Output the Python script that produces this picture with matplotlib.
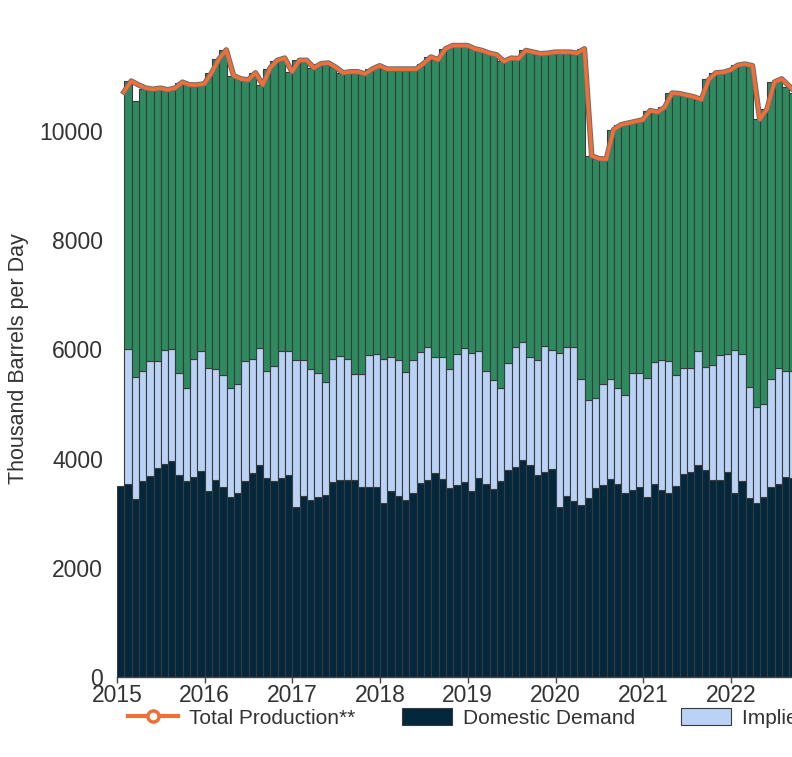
import numpy as np
import matplotlib
matplotlib.use("Agg")
import matplotlib.pyplot as plt
import matplotlib.patheffects as pe
from matplotlib.lines import Line2D
from matplotlib.patches import Patch

plt.rcParams['font.family'] = ['Liberation Sans', 'DejaVu Sans']

# monthly values, Jan 2015 .. Sep 2022 (thousand barrels per day)
years = [2015, 2016, 2017, 2018, 2019, 2020, 2021, 2022]

domestic_demand = [
    3490, 3540, 3250, 3580, 3680, 3830, 3900, 3960, 3690, 3580, 3660, 3770,
    3400, 3610, 3470, 3300, 3360, 3590, 3740, 3890, 3650, 3580, 3640, 3690,
    3120, 3320, 3240, 3300, 3330, 3570, 3610, 3610, 3610, 3470, 3470, 3470,
    3180, 3410, 3310, 3240, 3360, 3550, 3610, 3730, 3630, 3460, 3520, 3570,
    3410, 3640, 3530, 3450, 3580, 3790, 3850, 3970, 3880, 3690, 3760, 3800,
    3110, 3320, 3220, 3140, 3270, 3460, 3510, 3630, 3540, 3360, 3430, 3470,
    3300, 3540, 3430, 3360, 3500, 3710, 3760, 3880, 3790, 3610, 3610, 3750,
    3360, 3580, 3280, 3180, 3290, 3480, 3540, 3660, 3640,
]

implied_exports = [
    np.nan, 2470, 2250, 2030, 2100, 1950, 2080, 2040, 1870, 1710, 2160, 2200,
    2260, 2020, 2050, 2000, 2000, 2190, 2090, 2130, 1950, 2120, 2330, 2280,
    2690, 2480, 2400, 2260, 2070, 2250, 2260, 2220, 1940, 2070, 2430, 2450,
    2640, 2450, 2500, 2340, 2440, 2400, 2430, 2120, 2220, 2180, 2390, 2460,
    2530, 2320, 2080, 1990, 1720, 1950, 2200, 2160, 1970, 2120, 2300, 2190,
    2830, 2730, 2820, 2310, 1810, 1640, 1860, 1830, 1750, 1800, 2130, 2090,
    2170, 2220, 2380, 2430, 2020, 1940, 1900, 2090, 1880, 2110, 2280, 2160,
    2620, 2340, 2030, 1760, 1710, 1970, 2120, 1940, 1970,
]

crude_exports = [
    np.nan, 4900, 5040, 5160, 4990, 4990, 4780, 4790, 5320, 5560, 5020, 4880,
    5400, 5690, 5960, 5700, 5600, 5150, 5230, 4820, 5540, 5580, 5360, 5110,
    5480, 5490, 5510, 5670, 5840, 5340, 5180, 5250, 5520, 5500, 5230, 5270,
    5310, 5260, 5320, 5550, 5330, 5280, 5310, 5450, 5650, 5920, 5660, 5540,
    5560, 5510, 5810, 5960, 5970, 5590, 5270, 5340, 5590, 5600, 5370, 5440,
    5500, 5390, 5390, 6040, 4460, 4390, 4110, 4560, 4820, 4980, 4620, 4640,
    4890, 4570, 4620, 4900, 5150, 5010, 4950, 4590, 5270, 5340, 5170, 5200,
    5220, 5300, 5890, 5270, 5400, 5440, 5290, 5200, 5090,
]

total_production = [
    10710, 10910, 10840, 10780, 10760, 10780, 10750, 10780, 10890, 10840, 10840, 10860,
    11060, 11310, 11480, 11010, 10950, 10930, 11060, 10840, 11150, 11290, 11330, 11080,
    11290, 11290, 11150, 11230, 11240, 11160, 11060, 11080, 11080, 11040, 11130, 11190,
    11130, 11130, 11130, 11130, 11130, 11230, 11350, 11300, 11500, 11560, 11560, 11560,
    11500, 11470, 11420, 11390, 11270, 11330, 11320, 11470, 11440, 11410, 11420, 11440,
    11440, 11440, 11420, 11500, 9540, 9490, 9480, 10020, 10110, 10140, 10170, 10200,
    10370, 10340, 10430, 10690, 10680, 10650, 10620, 10570, 10930, 11060, 11070, 11110,
    11200, 11220, 11190, 10210, 10400, 10890, 10950, 10820, 10700,
]

c_demand = '#03283D'
c_implied = '#B9D2F5'
c_crude = '#2E8B5F'
c_prod = '#EE7038'
c_edge = '#3a3a3a'
c_text = '#333333'

dem = np.array(domestic_demand, dtype=float)
imp = np.array(implied_exports, dtype=float)
cru = np.array(crude_exports, dtype=float)
prod = np.array(total_production, dtype=float)
x = np.arange(len(dem))

fig = plt.figure(figsize=(7.92, 7.57), dpi=100)
# axes run past the right edge of the canvas, as in the reference crop
ax = fig.add_axes([117 / 792, 80 / 757, 687 / 792, 650 / 757])

ax.bar(x, dem, width=1, align='edge', color=c_demand, edgecolor=c_edge, linewidth=0.8)
ax.bar(x, imp, width=1, align='edge', bottom=dem, color=c_implied, edgecolor=c_edge, linewidth=0.8)
ax.bar(x, cru, width=1, align='edge', bottom=dem + imp, color=c_crude, edgecolor=c_edge, linewidth=0.8)

ax.plot(x + 0.95, prod, color=c_prod, lw=2.6, solid_joinstyle='round',
        path_effects=[pe.Stroke(linewidth=4.0, foreground='#6b6b6b'), pe.Normal()])

ax.set_xlim(0, 94)
ax.set_ylim(0, 11900)
ax.set_xticks([12 * i for i in range(len(years))])
ax.set_xticklabels([str(y) for y in years])
ax.set_yticks([0, 2000, 4000, 6000, 8000, 10000])

for s in ['top', 'right', 'left']:
    ax.spines[s].set_visible(False)
ax.spines['bottom'].set_color('#444444')
ax.spines['bottom'].set_linewidth(1.0)

ax.tick_params(axis='x', length=4, width=1, color='#444444', labelsize=16.5,
               labelcolor=c_text, pad=1)
ax.tick_params(axis='y', length=0, labelsize=16.5, labelcolor=c_text, pad=10)

ax.set_ylabel('Thousand Barrels per Day', fontsize=15.5, color=c_text)
ax.yaxis.set_label_coords(-0.128, 0.49)

handles = [
    Line2D([0], [0], color=c_prod, lw=3, marker='o', ms=8,
           markerfacecolor='white', markeredgecolor=c_prod, markeredgewidth=2.5),
    Patch(facecolor=c_demand, edgecolor=c_edge, linewidth=0.8),
    Patch(facecolor=c_implied, edgecolor=c_edge, linewidth=0.8),
    Patch(facecolor=c_crude, edgecolor=c_edge, linewidth=0.8),
]
labels = ['Total Production**', 'Domestic Demand', 'Implied Product Exports*', 'Crude Exports']
fig.legend(handles, labels, loc='center left', bbox_to_anchor=(128 / 792, 39 / 757),
           ncol=4, frameon=False, fontsize=15, labelcolor=c_text,
           handlelength=2.4, handleheight=0.85, handletextpad=0.55,
           columnspacing=2.2, borderpad=0, borderaxespad=0)

fig.savefig('out.png', dpi=100)
